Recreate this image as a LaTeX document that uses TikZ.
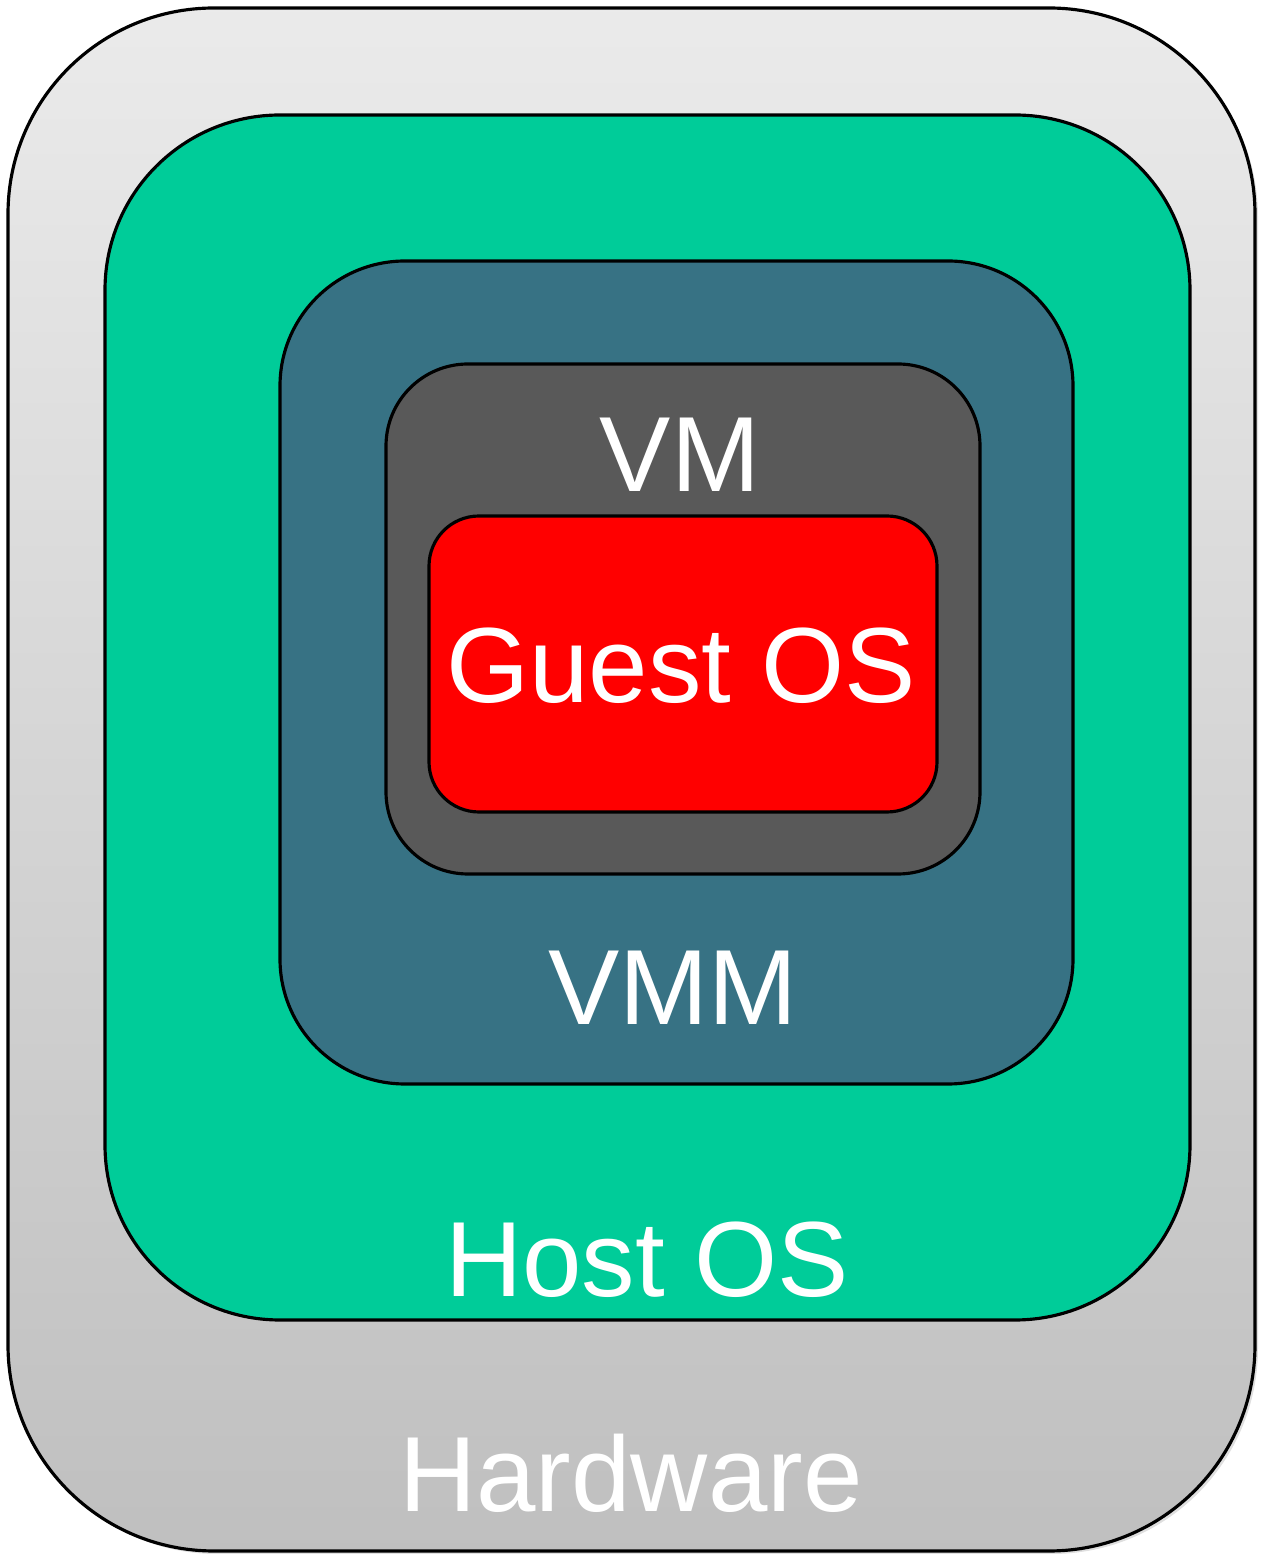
\documentclass[tikz,border=0pt]{standalone}
\usepackage{fontspec}
\setmainfont{Liberation Sans}
\usetikzlibrary{shadows}
\definecolor{hostgreen}{HTML}{00CC99}
\definecolor{vmmblue}{HTML}{377284}
\definecolor{vmgray}{HTML}{595959}
\definecolor{guestred}{HTML}{FF0000}
\tikzstyle{layer}=[rectangle,draw=black,line width=0.9pt,inner sep=0pt]
\tikzstyle{caption}=[text=white,anchor=base,inner sep=0pt,font=\fontsize{30.4}{36}\selectfont]

\begin{document}
\begin{tikzpicture}
				\useasboundingbox (0,0) rectangle (12.62,15.61);

				% Outer box with its gradient
				\node[layer, rounded corners=2.06cm, top color=black!8, bottom color=black!25,
					drop shadow={opacity=0.25,shadow xshift=0.03,shadow yshift=-0.03},
					minimum width=12.47cm, minimum height=15.43cm] (hw) at (6.315,7.815) {};

				% The nested layers
				\foreach \pos/\name/\w/\h/\r/\col in {{(6.475,8.435)/host/10.85/12.05/1.75/hostgreen},
										{(6.765,8.885)/vmm/7.93/8.23/1.25/vmmblue},
										{(6.83,9.42)/vm/5.94/5.10/0.82/vmgray},
										{(6.83,8.97)/guest/5.08/2.96/0.5/guestred}}
				\node[layer, rounded corners=\r cm, fill=\col, minimum width=\w cm, minimum height=\h cm] (\name) at \pos {};

				% Labels
				\foreach \pos/\name/\text in {{(6.80,10.69)/vmlabel/VM}, {(6.81,8.58)/guestlabel/Guest OS},
										{(6.73,5.36)/vmmlabel/VMM}, {(6.47,2.64)/hostlabel/Host OS},
										{(6.31,0.49)/hwlabel/Hardware}}
				\node[caption] (\name) at \pos {\text};

			\end{tikzpicture}
\end{document}
